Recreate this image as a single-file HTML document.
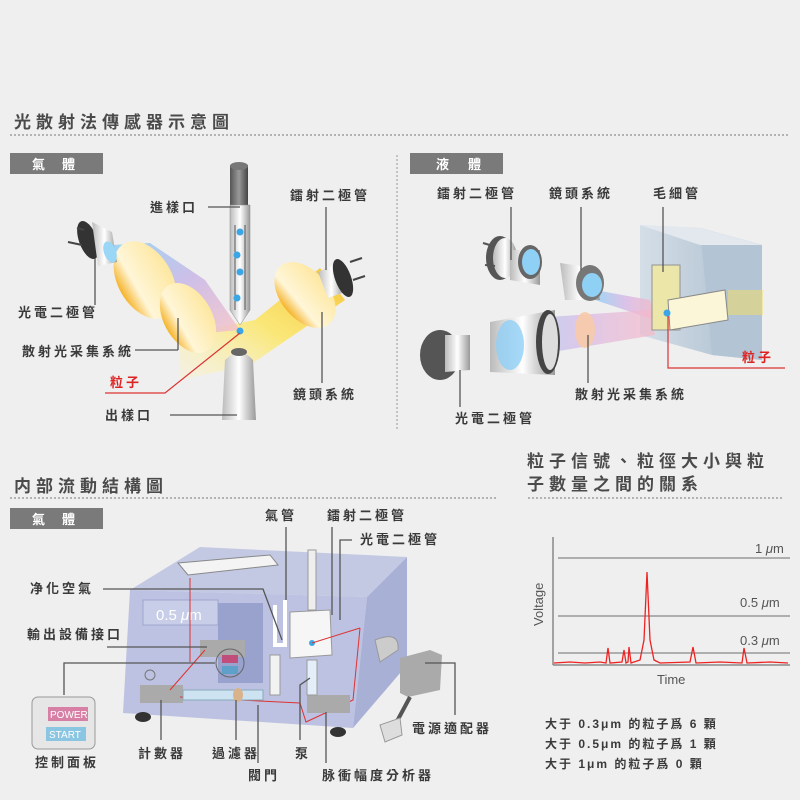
<!DOCTYPE html>
<html><head><meta charset="utf-8"><style>
html,body{margin:0;padding:0;background:#efefef}
svg{display:block}
text{font-family:"Liberation Sans","Noto Sans CJK TC",sans-serif}
.t{font-size:13px;fill:#3a3a3a;letter-spacing:3px;font-weight:bold}
.h{font-size:17px;font-weight:bold;fill:#4a4a4a;letter-spacing:5px}
.tag{font-size:13px;font-weight:bold;fill:#fff}
.ln{stroke:#555;stroke-width:1.3;fill:none}
</style></head><body>
<svg width="800" height="800" viewBox="0 0 800 800" xmlns="http://www.w3.org/2000/svg">
<defs>
<linearGradient id="tube" x1="0" x2="1"><stop offset="0" stop-color="#bbb"/><stop offset=".5" stop-color="#fff"/><stop offset="1" stop-color="#999"/></linearGradient>
<linearGradient id="dark" x1="0" x2="1"><stop offset="0" stop-color="#555"/><stop offset=".5" stop-color="#999"/><stop offset="1" stop-color="#444"/></linearGradient>
<linearGradient id="beamL" x1="0" y1="0" x2="1" y2="1"><stop offset="0" stop-color="#8fd0f5"/><stop offset=".5" stop-color="#c8b6e6"/><stop offset="1" stop-color="#f7c3c8"/></linearGradient>
<linearGradient id="yel" x1="1" y1="0" x2="0" y2="1"><stop offset="0" stop-color="#f7c12a"/><stop offset=".5" stop-color="#fbe66a"/><stop offset="1" stop-color="#fff5c0" stop-opacity=".3"/></linearGradient>
<linearGradient id="lens" x1="0" x2="1"><stop offset="0" stop-color="#f5b32a"/><stop offset=".3" stop-color="#fff6d8"/><stop offset="1" stop-color="#fde7a0"/></linearGradient>
<linearGradient id="lbeam" x1="0" x2="1"><stop offset="0" stop-color="#8fd0f5"/><stop offset=".5" stop-color="#d6b6e6"/><stop offset="1" stop-color="#f7b8c8"/></linearGradient>
<linearGradient id="cube" x1="0" x2="1"><stop offset="0" stop-color="#d4dee7"/><stop offset="1" stop-color="#a9bccd"/></linearGradient>
</defs>
<rect width="800" height="800" fill="#efefef"/>

<!-- section 1 -->
<text x="14" y="128" class="h">光散射法傳感器示意圖</text>
<line x1="10" y1="135" x2="790" y2="135" stroke="#777" stroke-dasharray="2,2"/>
<rect x="10" y="153" width="93" height="21" fill="#7a7a7a"/>
<text x="32" y="169" class="tag">氣</text><text x="62" y="169" class="tag">體</text>
<line x1="397" y1="155" x2="397" y2="430" stroke="#999" stroke-dasharray="2,2"/>
<rect x="410" y="153" width="93" height="21" fill="#7a7a7a"/>
<text x="436" y="169" class="tag">液</text><text x="468" y="169" class="tag">體</text>

<!-- gas diagram -->
<polygon points="180,335 255,320 320,268 345,300 250,365 180,380" fill="url(#yel)" opacity=".9"/>
<polygon points="112,245 150,243 205,280 240,330 185,335 115,270" fill="url(#beamL)" opacity=".85"/>
<ellipse cx="145" cy="280" rx="27" ry="42" transform="rotate(-30 145 280)" fill="url(#lens)"/>
<ellipse cx="188" cy="318" rx="24" ry="38" transform="rotate(-30 188 318)" fill="url(#lens)"/>
<ellipse cx="305" cy="295" rx="24" ry="38" transform="rotate(-40 305 295)" fill="url(#lens)"/>
<g>
<ellipse cx="88" cy="240" rx="9" ry="20" transform="rotate(-20 88 240)" fill="#333"/>
<path d="M92,222 L112,232 L117,262 L98,266 Z" fill="url(#tube)"/>
<ellipse cx="110" cy="252" rx="6" ry="11" transform="rotate(-20 110 252)" fill="#9ad6f5"/>
<line x1="77" y1="228" x2="84" y2="230" stroke="#444" stroke-width="2"/><line x1="68" y1="242" x2="82" y2="245" stroke="#444" stroke-width="2"/>
</g>
<g>
<path d="M318,272 L340,262 L345,292 L328,298 Z" fill="url(#tube)"/>
<ellipse cx="343" cy="278" rx="8" ry="20" transform="rotate(-20 343 278)" fill="#333"/>
<line x1="350" y1="262" x2="362" y2="258" stroke="#444" stroke-width="2"/><line x1="353" y1="280" x2="365" y2="276" stroke="#444" stroke-width="2"/>
</g>
<rect x="230" y="165" width="18" height="50" fill="url(#dark)"/>
<ellipse cx="239" cy="166" rx="9" ry="4" fill="#777"/>
<path d="M230,205 L250,205 L250,310 L240,325 L230,310 Z" fill="url(#tube)" stroke="#888" stroke-width=".5"/>
<line x1="235" y1="225" x2="235" y2="310" stroke="#555"/><line x1="245" y1="225" x2="245" y2="310" stroke="#555"/>
<circle cx="240" cy="232" r="3.5" fill="#3aa6e6"/><circle cx="237" cy="255" r="3.5" fill="#3aa6e6"/><circle cx="240" cy="272" r="3.5" fill="#3aa6e6"/><circle cx="237" cy="298" r="3.5" fill="#3aa6e6"/>
<circle cx="240" cy="331" r="3.5" fill="#3aa6e6"/>
<path d="M225,360 Q240,345 253,360 L256,420 L222,420 Z" fill="url(#tube)"/>
<ellipse cx="239" cy="352" rx="8" ry="4" fill="#666"/>
<text x="150" y="212" class="t">進樣口</text><line x1="208" y1="207" x2="240" y2="207" class="ln"/>
<text x="290" y="200" class="t">鐳射二極管</text><line x1="326" y1="207" x2="326" y2="270" class="ln"/>
<text x="18" y="317" class="t">光電二極管</text><line x1="95" y1="258" x2="95" y2="305" class="ln"/>
<text x="22" y="356" class="t">散射光采集系統</text><line x1="135" y1="350" x2="178" y2="350" class="ln"/><line x1="178" y1="350" x2="178" y2="318" class="ln"/>
<text x="110" y="387" class="t" style="fill:#d22">粒子</text>
<path d="M105,393 L165,393 L240,333" stroke="#d33" stroke-width="1.2" fill="none"/>
<text x="105" y="420" class="t">出樣口</text><line x1="170" y1="415" x2="237" y2="415" class="ln"/>
<text x="293" y="399" class="t">鏡頭系統</text><line x1="322" y1="383" x2="322" y2="312" class="ln"/>

<!-- liquid diagram -->
<polygon points="640,225 700,228 762,245 762,360 712,355 640,335" fill="url(#cube)"/>
<polygon points="700,228 762,245 762,360 712,355" fill="#b3c4d4"/>
<polygon points="640,225 700,228 762,245 700,245" fill="#e2e8ee"/>
<polygon points="595,290 650,300 655,320 595,300" fill="url(#lbeam)" opacity=".8"/>
<polygon points="505,320 650,310 655,335 505,360" fill="url(#lbeam)" opacity=".7"/>
<rect x="652" y="265" width="28" height="65" fill="#f2e9a0" stroke="#888" opacity=".85"/>
<polygon points="668,300 725,290 728,320 670,330" fill="#fbf6d8" stroke="#888"/>
<rect x="728" y="290" width="35" height="25" fill="#f6e060" opacity=".5"/>
<circle cx="667" cy="313" r="3.5" fill="#3aa6e6"/>
<text x="742" y="362" class="t" style="fill:#d22">粒子</text>
<path d="M668,316 L668,368 L785,368" stroke="#d33" stroke-width="1.2" fill="none"/>
<ellipse cx="500" cy="258" rx="14" ry="22" fill="#555"/>
<ellipse cx="505" cy="258" rx="12" ry="20" fill="url(#tube)"/>
<line x1="483" y1="243" x2="493" y2="246" stroke="#555" stroke-width="2"/><line x1="485" y1="265" x2="495" y2="266" stroke="#555" stroke-width="2"/>
<path d="M510,250 L540,250 L540,285 L510,280Z" fill="url(#tube)"/>
<ellipse cx="530" cy="262" rx="12" ry="17" fill="#666"/><ellipse cx="531" cy="262" rx="9" ry="13" fill="#8fd0f5"/>
<path d="M560,263 L595,268 L600,300 L565,300Z" fill="url(#tube)"/>
<ellipse cx="590" cy="283" rx="14" ry="18" fill="#777"/><ellipse cx="592" cy="285" rx="10" ry="12" fill="#8fd0f5"/>
<polygon points="490,322 555,310 555,375 490,372" fill="url(#tube)"/>
<ellipse cx="548" cy="342" rx="12" ry="32" fill="#444"/><ellipse cx="550" cy="342" rx="8" ry="28" fill="#ddd"/>
<ellipse cx="510" cy="345" rx="14" ry="25" fill="#8fd0f5" opacity=".8"/>
<ellipse cx="585" cy="330" rx="10" ry="18" fill="#f7caa8" opacity=".9"/>
<ellipse cx="440" cy="355" rx="20" ry="25" fill="#555"/>
<path d="M445,335 L470,335 L470,370 L445,372Z" fill="url(#tube)"/>
<text x="437" y="198" class="t">鐳射二極管</text><line x1="511" y1="207" x2="511" y2="260" class="ln"/>
<text x="549" y="198" class="t">鏡頭系統</text><line x1="581" y1="207" x2="581" y2="270" class="ln"/>
<text x="653" y="198" class="t">毛細管</text><line x1="663" y1="207" x2="663" y2="272" class="ln"/>
<text x="575" y="399" class="t">散射光采集系統</text><line x1="588" y1="335" x2="588" y2="383" class="ln"/>
<text x="455" y="423" class="t">光電二極管</text><line x1="460" y1="370" x2="460" y2="407" class="ln"/>

<!-- section 2 -->
<text x="14" y="492" class="h">内部流動結構圖</text>
<line x1="10" y1="498" x2="498" y2="498" stroke="#777" stroke-dasharray="2,2"/>
<rect x="10" y="508" width="93" height="21" fill="#7a7a7a"/>
<text x="32" y="524" class="tag">氣</text><text x="62" y="524" class="tag">體</text>
<text x="527" y="467" class="h">粒子信號、粒徑大小與粒</text>
<text x="527" y="490" class="h">子數量之間的關系</text>
<line x1="528" y1="498" x2="783" y2="498" stroke="#777" stroke-dasharray="2,2"/>

<!-- machine -->
<polygon points="200,547 407,557 367,597 130,590" fill="#c4c9e3"/>
<polygon points="130,590 367,597 353,728 123,713" fill="#b9bfe0" opacity=".95"/>
<polygon points="367,597 407,557 407,665 353,728" fill="#a9b0d6"/>
<polygon points="178,563 270,555 278,565 188,575" fill="#f4f4f4" stroke="#888"/>
<rect x="143" y="600" width="75" height="25" fill="#c8cde8" stroke="#a0a6cc"/>
<text x="156" y="620" style="font-size:15px;fill:#fff">0.5 <tspan font-style="italic">μ</tspan>m</text>
<rect x="218" y="603" width="45" height="80" fill="#98a2cc"/>
<line x1="190" y1="578" x2="190" y2="662" stroke="#d33"/>
<rect x="200" y="640" width="45" height="17" fill="#aaa"/>
<rect x="140" y="685" width="43" height="18" fill="#aaa"/>
<circle cx="230" cy="663" r="14" fill="none" stroke="#666"/>
<rect x="222" y="655" width="16" height="8" fill="#c04d7a"/><rect x="222" y="666" width="16" height="8" fill="#5fa0c8"/>
<line x1="170" y1="690" x2="205" y2="650" stroke="#d33"/>
<path d="M180,697 L300,703 L306,722 L353,700 L360,628" stroke="#d33" fill="none"/>
<rect x="183" y="690" width="80" height="10" fill="#cde3f2" stroke="#8ab"/>
<rect x="307" y="695" width="43" height="18" fill="#aaa"/>
<path d="M275,605 L275,645 L285,645 L285,600" stroke="#fff" stroke-width="4" fill="none"/>
<polygon points="290,612 330,610 332,655 290,658" fill="#f6f6f6" stroke="#999"/>
<rect x="308" y="550" width="8" height="60" fill="#eee" stroke="#999"/>
<circle cx="312" cy="643" r="3" fill="#3aa6e6"/>
<line x1="312" y1="643" x2="360" y2="628" stroke="#d33"/>
<rect x="307" y="660" width="10" height="35" fill="#e4eef8" stroke="#999"/>
<rect x="270" y="655" width="10" height="40" fill="#f2f2f2" stroke="#999"/>
<ellipse cx="238" cy="695" rx="5" ry="7" fill="#d9b38c"/>
<circle cx="150" cy="675" r="5" fill="none" stroke="#777"/>
<ellipse cx="143" cy="717" rx="8" ry="5" fill="#333"/><ellipse cx="338" cy="732" rx="8" ry="5" fill="#333"/>
<path d="M375,640 Q400,630 398,650 L380,662Z" fill="#ccc" stroke="#999"/>
<polygon points="400,658 430,650 442,655 440,690 408,697 400,693" fill="#aaa"/>
<line x1="410" y1="697" x2="395" y2="725" stroke="#555" stroke-width="4"/>
<path d="M380,725 L400,718 L402,735 L385,742Z" fill="#ddd" stroke="#999"/>
<rect x="32" y="697" width="63" height="52" rx="6" fill="#e6e6e6" stroke="#999"/>
<rect x="48" y="707" width="40" height="14" fill="#d87fa6"/><text x="50" y="718" style="font-size:10px;fill:#fff">POWER</text>
<rect x="46" y="727" width="40" height="14" fill="#8ac6e2"/><text x="49" y="738" style="font-size:10px;fill:#fff">START</text>
<text x="35" y="767" class="t">控制面板</text>
<text x="30" y="593" class="t">净化空氣</text><path d="M103,589 L263,589 L282,640" class="ln"/>
<text x="27" y="639" class="t">輸出設備接口</text><line x1="107" y1="647" x2="207" y2="647" class="ln"/>
<path d="M64,695 L64,663 L215,663" class="ln"/>
<text x="265" y="520" class="t">氣管</text><line x1="286" y1="527" x2="286" y2="600" class="ln"/>
<text x="327" y="520" class="t">鐳射二極管</text><line x1="332" y1="527" x2="332" y2="615" class="ln"/>
<text x="360" y="544" class="t">光電二極管</text><path d="M352,540 L340,540 L340,620" class="ln"/>
<text x="138" y="758" class="t">計數器</text><line x1="161" y1="700" x2="161" y2="740" class="ln"/>
<text x="212" y="758" class="t">過濾器</text><line x1="236" y1="700" x2="236" y2="740" class="ln"/>
<text x="248" y="780" class="t">閥門</text><line x1="258" y1="705" x2="258" y2="763" class="ln"/>
<text x="295" y="758" class="t">泵</text><path d="M300,740 L300,685 L310,678" class="ln"/>
<text x="322" y="780" class="t">脉衝幅度分析器</text><line x1="326" y1="712" x2="326" y2="763" class="ln"/>
<text x="412" y="733" class="t">電源適配器</text><path d="M425,663 L455,663 L455,715" class="ln"/>

<!-- chart -->
<line x1="553" y1="537" x2="553" y2="665" stroke="#888" stroke-width="1.5"/>
<line x1="553" y1="665" x2="790" y2="665" stroke="#888" stroke-width="1.5"/>
<line x1="558" y1="558" x2="790" y2="558" stroke="#888" stroke-width="1.2"/>
<line x1="558" y1="616" x2="790" y2="616" stroke="#888" stroke-width="1.2"/>
<line x1="558" y1="653" x2="790" y2="653" stroke="#888" stroke-width="1.2"/>
<text x="755" y="553" style="font-size:13px;fill:#555">1 <tspan font-style="italic">μ</tspan>m</text>
<text x="740" y="607" style="font-size:13px;fill:#555">0.5 <tspan font-style="italic">μ</tspan>m</text>
<text x="740" y="645" style="font-size:13px;fill:#555">0.3 <tspan font-style="italic">μ</tspan>m</text>
<text x="543" y="626" transform="rotate(-90 543 626)" style="font-size:13px;fill:#555">Voltage</text>
<text x="657" y="684" style="font-size:13px;fill:#555">Time</text>
<polyline fill="none" stroke="#e22" stroke-width="1.3" points="554,663 570,662 585,663 600,662 606,663 608,648 610,663 622,662 624,650 626,663 628,662 629,647 631,663 640,660 644,640 647,572 650,640 654,660 660,663 690,662 693,647 696,663 720,662 742,663 744,648 747,663 770,662 788,663"/>
<text x="545" y="728" class="t" style="font-size:12px;letter-spacing:2px">大于 0.3μm 的粒子爲 6 顆</text>
<text x="545" y="748" class="t" style="font-size:12px;letter-spacing:2px">大于 0.5μm 的粒子爲 1 顆</text>
<text x="545" y="768" class="t" style="font-size:12px;letter-spacing:2px">大于 1μm 的粒子爲 0 顆</text>
</svg>
</body></html>
